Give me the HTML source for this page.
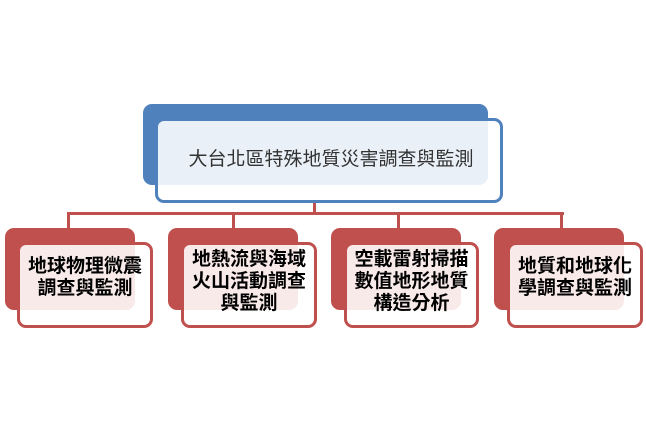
<!DOCTYPE html>
<html><head><meta charset="utf-8"><style>
body{margin:0;width:646px;height:428px;background:#fff;position:relative;overflow:hidden;font-family:"Liberation Sans","Noto Sans CJK TC",sans-serif}
.a{position:absolute;box-sizing:border-box}
.bb{background:#4f81bd;border-radius:9px}
.bf{border:3px solid #4f81bd;border-radius:9px;background:rgba(255,255,255,0.88)}
.rb{background:#c0504d;border-radius:9px}
.rf{border:3px solid #c0504d;border-radius:9px;background:rgba(255,255,255,0.88);display:flex;align-items:center;justify-content:center;text-align:center;font-weight:bold;font-size:19px;line-height:22px;color:#000}
.l{position:absolute;background:#c0504d}
</style></head><body>
<div class="l" style="left:313px;top:200px;width:3px;height:15px"></div>
<div class="l" style="left:67px;top:212px;width:497px;height:3px"></div>
<div class="l" style="left:67px;top:212px;width:3px;height:18px"></div>
<div class="l" style="left:232px;top:212px;width:3px;height:18px"></div>
<div class="l" style="left:397px;top:212px;width:3px;height:18px"></div>
<div class="l" style="left:560px;top:212px;width:3px;height:18px"></div>

<div class="a bb" style="left:143px;top:104px;width:345px;height:81px"></div>
<div class="a bf" style="left:155px;top:118px;width:348px;height:85px;display:flex;align-items:center;justify-content:center;font-size:19px;color:#333;padding-bottom:6px;padding-left:4px">大台北區特殊地質災害調查與監測</div>

<div class="a rb" style="left:5px;top:228px;width:130px;height:82px"></div>
<div class="a rf" style="left:17px;top:242px;width:136px;height:86px;padding-bottom:14px">地球物理微震<br>調查與監測</div>
<div class="a rb" style="left:168px;top:228px;width:130px;height:82px"></div>
<div class="a rf" style="left:181px;top:242px;width:136px;height:86px;padding-bottom:6px">地熱流與海域<br>火山活動調查<br>與監測</div>
<div class="a rb" style="left:331px;top:228px;width:130px;height:82px"></div>
<div class="a rf" style="left:344px;top:242px;width:135px;height:86px;padding-bottom:6px">空載雷射掃描<br>數值地形地質<br>構造分析</div>
<div class="a rb" style="left:494px;top:228px;width:130px;height:82px"></div>
<div class="a rf" style="left:507px;top:242px;width:136px;height:86px;padding-bottom:14px">地質和地球化<br>學調查與監測</div>
</body></html>
